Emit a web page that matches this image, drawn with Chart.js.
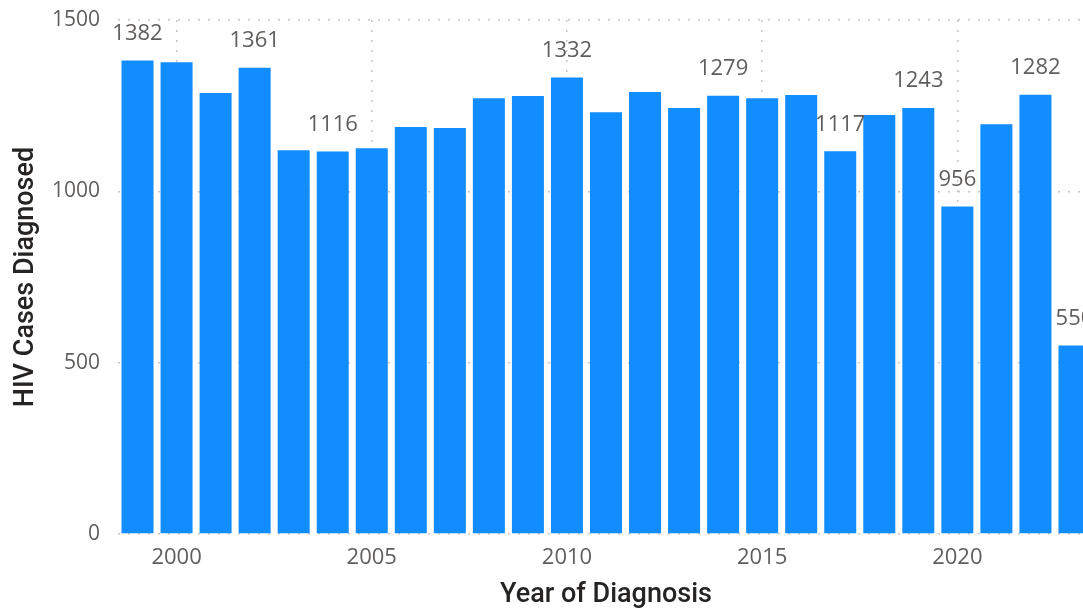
<!DOCTYPE html>
<html>
<head>
<meta charset="utf-8">
<script src="https://cdn.jsdelivr.net/npm/chart.js@4/dist/chart.umd.min.js"></script>
<style>
  html, body { margin: 0; padding: 0; overflow: hidden; background: #fff; }
  #wrap { position: relative; width: 1094px; height: 609px; }
</style>
</head>
<body>
<div id="wrap"><canvas id="c"></canvas></div>
<script>
const years = ['1999','2000','2001','2002','2003','2004','2005','2006','2007','2008','2009','2010','2011','2012','2013','2014','2015','2016','2017','2018','2019','2020','2021','2022','2023'];
const cases = [1382,1377,1287,1361,1120,1116,1126,1188,1185,1272,1278,1332,1231,1290,1243,1279,1272,1281,1117,1223,1243,956,1196,1282,550];
const labeledYears = ['1999','2002','2004','2010','2014','2017','2019','2020','2022','2023'];
const xTickYears = ['2000','2005','2010','2015','2020'];
const yTicks = [0, 500, 1000, 1500];

const FONT = "'Open Sans', 'Noto Sans', sans-serif";
const TITLE_FONT = "Roboto, 'DejaVu Sans', sans-serif";
const GRID = '#c8c6c4';

const dataLabels = {
  id: 'dataLabels',
  afterDatasetsDraw(chart) {
    const ctx = chart.ctx;
    const meta = chart.getDatasetMeta(0);
    ctx.save();
    ctx.font = '22px ' + FONT;
    ctx.fillStyle = '#605e5c';
    ctx.textAlign = 'center';
    ctx.textBaseline = 'middle';
    meta.data.forEach((bar, i) => {
      if (labeledYears.includes(years[i])) {
        ctx.fillText(String(cases[i]), bar.x, bar.y - 27);
      }
    });
    ctx.restore();
  }
};

new Chart(document.getElementById('c'), {
  type: 'bar',
  data: {
    labels: years,
    datasets: [{
      data: cases,
      backgroundColor: '#118dff',
      borderWidth: 0,
      categoryPercentage: 1,
      barPercentage: 0.82
    }]
  },
  options: {
    responsive: true,
    maintainAspectRatio: false,
    animation: false,
    layout: { padding: { top: 20, right: 0, bottom: 0, left: 0 } },
    plugins: { legend: { display: false }, tooltip: { enabled: false } },
    scales: {
      x: {
        grid: {
          offset: false,
          drawTicks: false,
          color: (c) => (c.tick && xTickYears.includes(years[c.index])) ? GRID : 'rgba(0,0,0,0)',
          lineWidth: 1.5
        },
        border: { display: false, dash: [2, 8] },
        ticks: {
          autoSkip: false,
          maxRotation: 0,
          padding: 11,
          color: '#605e5c',
          font: { family: FONT, size: 22 },
          callback: (v, i) => xTickYears.includes(years[i]) ? years[i] : ''
        },
        title: {
          display: true,
          text: 'Year of Diagnosis',
          color: '#252423',
          font: { family: TITLE_FONT, size: 27, weight: '500', lineHeight: 1.0 },
          padding: { top: 0, bottom: 0 }
        },
        afterFit: (s) => { s.height = 75; s.paddingLeft = 0; s.paddingRight = 0; }
      },
      y: {
        min: 0,
        max: 1500,
        afterBuildTicks: (s) => { s.ticks = yTicks.map(v => ({ value: v })); },
        grid: { drawTicks: false, color: GRID, lineWidth: 1.5 },
        border: { display: false, dash: [2, 8] },
        ticks: {
          padding: 18,
          color: '#605e5c',
          font: { family: FONT, size: 21 },
          callback: (v) => String(v)
        },
        title: {
          display: true,
          text: 'HIV Cases Diagnosed',
          color: '#252423',
          font: { family: TITLE_FONT, size: 27, weight: '500' },
          padding: { top: 10, bottom: 0 }
        },
        afterFit: (s) => { s.width = 118; s.paddingTop = 0; s.paddingBottom = 0; }
      }
    }
  },
  plugins: [dataLabels]
});
</script>
</body>
</html>
